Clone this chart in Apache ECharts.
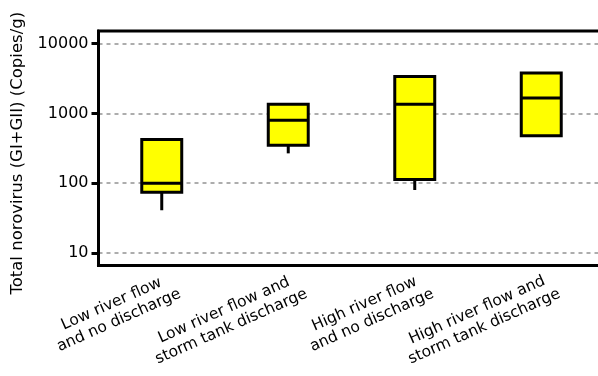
<!DOCTYPE html>
<html>
<head>
<meta charset="utf-8">
<script src="https://cdn.jsdelivr.net/npm/echarts@6/dist/echarts.min.js"></script>
<style>
  html, body { margin: 0; padding: 0; background: #fff; }
  #chart { width: 598px; height: 376px; }
</style>
</head>
<body>
<div id="chart"></div>
<script>
// Sampling conditions (x categories)
const categories = [
  'Low river flow\nand no discharge',
  'Low river flow and\nstorm tank discharge',
  'High river flow\nand no discharge',
  'High river flow and\nstorm tank discharge'
];
// Box statistics per condition, copies/g
const whiskerLow = [41, 268, 80, 480];
const quartile1 = [74, 350, 113, 480];
const medians = [100, 800, 1350, 1660];
const quartile3 = [425, 1350, 3400, 3800];
const whiskerHigh = [425, 1350, 3400, 3800];
// Labelled ticks on the log axis
const yTicks = [10, 100, 1000, 10000];

const font = 'DejaVu Sans, Verdana, sans-serif';

const boxData = categories.map((c, i) => [
  i, whiskerLow[i], quartile1[i], medians[i], quartile3[i], whiskerHigh[i]
]);

function renderBox(params, api) {
  const i = api.value(0);
  const pMin = api.coord([i, api.value(1)]);
  const pQ1 = api.coord([i, api.value(2)]);
  const pMed = api.coord([i, api.value(3)]);
  const pQ3 = api.coord([i, api.value(4)]);
  const pMax = api.coord([i, api.value(5)]);
  const half = api.size([1, 0])[0] * 0.158;
  const x = pMed[0];
  const line = { stroke: '#000', lineWidth: 3 };
  const children = [];
  if (pMin[1] > pQ1[1] + 0.5) {
    children.push({ type: 'line', shape: { x1: x, y1: pQ1[1], x2: x, y2: pMin[1] }, style: line });
  }
  if (pMax[1] < pQ3[1] - 0.5) {
    children.push({ type: 'line', shape: { x1: x, y1: pQ3[1], x2: x, y2: pMax[1] }, style: line });
  }
  children.push({
    type: 'rect',
    shape: { x: x - half, y: pQ3[1], width: half * 2, height: pQ1[1] - pQ3[1] },
    style: { fill: '#ffff00', stroke: '#000', lineWidth: 3 }
  });
  children.push({ type: 'line', shape: { x1: x - half, y1: pMed[1], x2: x + half, y2: pMed[1] }, style: line });
  return { type: 'group', children: children };
}

const chart = echarts.init(document.getElementById('chart'), null, { renderer: 'canvas' });
chart.setOption({
  animation: false,
  backgroundColor: '#fff',
  grid: {
    left: 98.5, width: 506, top: 31, bottom: 110.5,
    outerBoundsMode: 'none',
    containLabel: false,
    show: true, borderColor: '#000', borderWidth: 3, backgroundColor: 'transparent'
  },
  xAxis: {
    type: 'category',
    data: categories,
    axisLine: { lineStyle: { color: '#000', width: 3 } },
    axisTick: { alignWithLabel: true, length: 5, lineStyle: { color: '#000', width: 3 } },
    splitLine: { show: false },
    axisLabel: {
      interval: 0,
      rotate: 24,
      margin: 26,
      padding: [0, -16, 0, 0],
      color: '#000',
      fontFamily: font,
      fontSize: 15.5,
      lineHeight: 18,
      formatter: v => v.split('\n').map(s => '{c|' + s + '}').join('\n'),
      rich: { c: { align: 'center', fontFamily: font, fontSize: 15.5, lineHeight: 18, color: '#000' } }
    }
  },
  yAxis: {
    type: 'log',
    logBase: 10,
    min: 6.62,
    max: 15200,
    name: 'Total norovirus (GI+GII) (Copies/g)',
    nameLocation: 'middle',
    nameGap: 72,
    nameTextStyle: { fontFamily: font, fontSize: 16.5, color: '#000', padding: [0, 10, 0, 0] },
    axisLine: { show: true, lineStyle: { color: '#000', width: 3 } },
    axisTick: { show: true, length: 7, customValues: yTicks, lineStyle: { color: '#000', width: 3 } },
    axisLabel: {
      customValues: yTicks,
      margin: 10,
      fontFamily: font,
      fontSize: 16,
      color: '#000',
      formatter: v => String(Math.round(v))
    },
    splitLine: { show: true, lineStyle: { color: '#adadad', width: 2, type: [4, 4] } }
  },
  series: [{
    type: 'custom',
    renderItem: renderBox,
    encode: { x: 0, y: [1, 2, 3, 4, 5] },
    data: boxData,
    z: 5
  }]
});
</script>
</body>
</html>
